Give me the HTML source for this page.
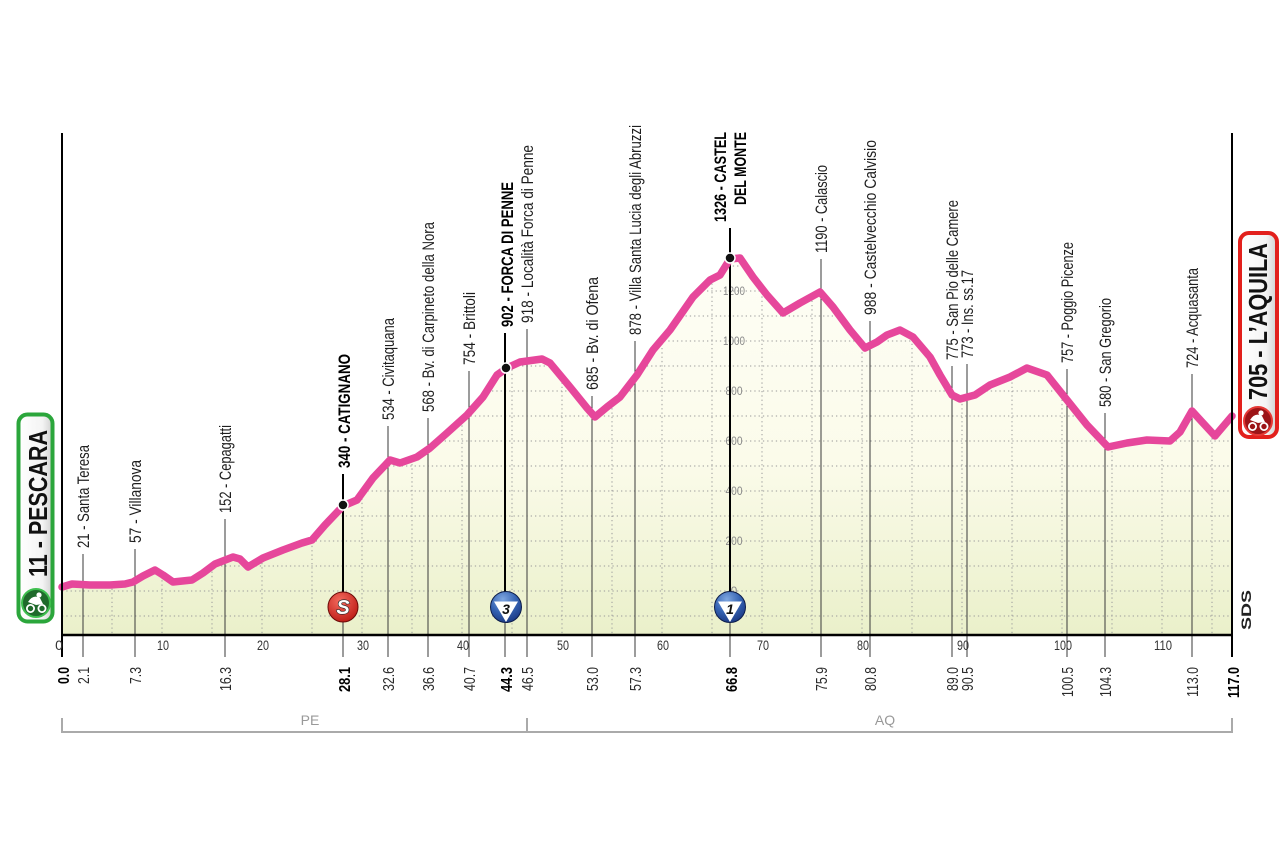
<!DOCTYPE html>
<html><head><meta charset="utf-8"><style>
html,body{margin:0;padding:0;background:#fff;}
svg{display:block;}
text{font-family:"Liberation Sans",sans-serif;}
</style></head><body>
<svg width="1280" height="852" viewBox="0 0 1280 852" xmlns="http://www.w3.org/2000/svg">
<defs>
<linearGradient id="fillg" gradientUnits="userSpaceOnUse" x1="0" y1="250" x2="0" y2="635">
<stop offset="0" stop-color="#fefef6"/><stop offset="0.55" stop-color="#fbfbea"/><stop offset="1" stop-color="#eaf0ca"/>
</linearGradient>
<linearGradient id="boxg" x1="0" y1="0" x2="1" y2="0">
<stop offset="0" stop-color="#ffffff"/><stop offset="0.7" stop-color="#f4f4f4"/><stop offset="1" stop-color="#d0d0d0"/>
</linearGradient>
<radialGradient id="redg" cx="0.4" cy="0.3" r="0.8"><stop offset="0" stop-color="#f46a5e"/><stop offset="1" stop-color="#b8150f"/></radialGradient>
<radialGradient id="blueg" cx="0.4" cy="0.25" r="0.85"><stop offset="0" stop-color="#7ea6e0"/><stop offset="0.5" stop-color="#3563b3"/><stop offset="1" stop-color="#16307a"/></radialGradient>
<clipPath id="areaclip"><path d="M62,635 L62,587 L72,584 L90,585 L110,585 L125,584 L133,582 L143,576 L155,570 L163,575 L173,582 L192,580 L203,573 L215,564 L233,557 L240,559 L248,567 L263,558 L283,550 L302,543 L312,540 L325,525 L343,506 L357,500 L373,478 L390,460 L400,463 L417,457 L430,448 L447,433 L467,415 L483,397 L497,375 L507,368 L520,362 L542,359 L550,363 L570,387 L587,408 L595,417 L607,407 L620,397 L637,375 L653,350 L670,330 L693,297 L710,280 L720,275 L730,259 L740,258 L753,277 L767,295 L783,313 L800,303 L820,292 L833,307 L850,330 L865,348 L877,342 L887,335 L900,330 L913,337 L930,357 L940,375 L952,395 L960,399 L975,395 L990,385 L1010,377 L1027,368 L1047,375 L1067,400 L1087,425 L1108,447 L1127,443 L1147,440 L1170,441 L1180,432 L1192,411 L1203,423 L1215,436 L1232,416 L1232,635 Z"/></clipPath>
</defs>

<path d="M62,635 L62,587 L72,584 L90,585 L110,585 L125,584 L133,582 L143,576 L155,570 L163,575 L173,582 L192,580 L203,573 L215,564 L233,557 L240,559 L248,567 L263,558 L283,550 L302,543 L312,540 L325,525 L343,506 L357,500 L373,478 L390,460 L400,463 L417,457 L430,448 L447,433 L467,415 L483,397 L497,375 L507,368 L520,362 L542,359 L550,363 L570,387 L587,408 L595,417 L607,407 L620,397 L637,375 L653,350 L670,330 L693,297 L710,280 L720,275 L730,259 L740,258 L753,277 L767,295 L783,313 L800,303 L820,292 L833,307 L850,330 L865,348 L877,342 L887,335 L900,330 L913,337 L930,357 L940,375 L952,395 L960,399 L975,395 L990,385 L1010,377 L1027,368 L1047,375 L1067,400 L1087,425 L1108,447 L1127,443 L1147,440 L1170,441 L1180,432 L1192,411 L1203,423 L1215,436 L1232,416 L1232,635 Z" fill="url(#fillg)"/>

<g clip-path="url(#areaclip)" stroke="#9a9a9a" stroke-width="1" stroke-dasharray="1.3 3" fill="none">
<path d="M62,616H1232M62,591H1232M62,566H1232M62,541H1232M62,516H1232M62,491H1232M62,466H1232M62,441H1232M62,416H1232M62,391H1232M62,366H1232M62,341H1232M62,316H1232M62,291H1232M62,266H1232"/>
<path d="M112,133V635M162,133V635M212,133V635M262,133V635M312,133V635M362,133V635M412,133V635M462,133V635M512,133V635M562,133V635M612,133V635M662,133V635M712,133V635M762,133V635M812,133V635M862,133V635M912,133V635M962,133V635M1012,133V635M1062,133V635M1112,133V635M1162,133V635M1212,133V635"/>
</g>

<g fill="#8a8a8a" font-size="12" text-anchor="middle">
<text x="734" y="295" textLength="22" lengthAdjust="spacingAndGlyphs">1200</text>
<text x="734" y="345" textLength="22" lengthAdjust="spacingAndGlyphs">1000</text>
<text x="734" y="395" textLength="17" lengthAdjust="spacingAndGlyphs">800</text>
<text x="734" y="445" textLength="17" lengthAdjust="spacingAndGlyphs">600</text>
<text x="734" y="495" textLength="17" lengthAdjust="spacingAndGlyphs">400</text>
<text x="734" y="545" textLength="17" lengthAdjust="spacingAndGlyphs">200</text>
<text x="734" y="595">0</text>
</g>

<g stroke="#3a3a3a" stroke-width="1" fill="none">
<path d="M83,554V657M135,549V657M225,519V657M388,426V657M428,418V657M469,371V657M527,329V657M592,396V657M635,341V657M821,259V657M870,321V657M952,366V657M967,364V657M1067,369V657M1105,413V657M1192,374V657"/>
<path d="M343,600V657M505,600V657M730,600V657"/>
</g>
<g stroke="#000" stroke-width="2" fill="none">
<path d="M343,474V600M505,333V600M730,228V600"/>
</g>

<polyline fill="none" stroke="#e6479b" stroke-width="7.5" stroke-linejoin="round" stroke-linecap="round" points="62,587 72,584 90,585 110,585 125,584 133,582 143,576 155,570 163,575 173,582 192,580 203,573 215,564 233,557 240,559 248,567 263,558 283,550 302,543 312,540 325,525 343,506 357,500 373,478 390,460 400,463 417,457 430,448 447,433 467,415 483,397 497,375 507,368 520,362 542,359 550,363 570,387 587,408 595,417 607,407 620,397 637,375 653,350 670,330 693,297 710,280 720,275 730,259 740,258 753,277 767,295 783,313 800,303 820,292 833,307 850,330 865,348 877,342 887,335 900,330 913,337 930,357 940,375 952,395 960,399 975,395 990,385 1010,377 1027,368 1047,375 1067,400 1087,425 1108,447 1127,443 1147,440 1170,441 1180,432 1192,411 1203,423 1215,436 1232,416"/>

<g fill="#111" stroke="#fff" stroke-width="1.5">
<circle cx="343" cy="505" r="5"/>
<circle cx="506" cy="368" r="5"/>
<circle cx="730" cy="258" r="5"/>
</g>

<g stroke="#000" fill="none">
<path d="M62,133V657" stroke-width="2"/>
<path d="M1232,133V657" stroke-width="2"/>
<path d="M61,635H1233" stroke-width="2.5"/>
</g>

<g fill="#333" font-size="14" text-anchor="middle">
<text x="59" y="650">0</text>
<text x="163" y="650" textLength="12" lengthAdjust="spacingAndGlyphs">10</text>
<text x="263" y="650" textLength="12" lengthAdjust="spacingAndGlyphs">20</text>
<text x="363" y="650" textLength="12" lengthAdjust="spacingAndGlyphs">30</text>
<text x="463" y="650" textLength="12" lengthAdjust="spacingAndGlyphs">40</text>
<text x="563" y="650" textLength="12" lengthAdjust="spacingAndGlyphs">50</text>
<text x="663" y="650" textLength="12" lengthAdjust="spacingAndGlyphs">60</text>
<text x="763" y="650" textLength="12" lengthAdjust="spacingAndGlyphs">70</text>
<text x="863" y="650" textLength="12" lengthAdjust="spacingAndGlyphs">80</text>
<text x="963" y="650" textLength="12" lengthAdjust="spacingAndGlyphs">90</text>
<text x="1063" y="650" textLength="18" lengthAdjust="spacingAndGlyphs">100</text>
<text x="1163" y="650" textLength="18" lengthAdjust="spacingAndGlyphs">110</text>
</g>

<g fill="#1e1e1e" font-size="17">
<text transform="translate(89,548) rotate(-90)" textLength="103" lengthAdjust="spacingAndGlyphs">21 - Santa Teresa</text>
<text transform="translate(141,543) rotate(-90)" textLength="83" lengthAdjust="spacingAndGlyphs">57 - Villanova</text>
<text transform="translate(231,513) rotate(-90)" textLength="88" lengthAdjust="spacingAndGlyphs">152 - Cepagatti</text>
<text transform="translate(394,420) rotate(-90)" textLength="102" lengthAdjust="spacingAndGlyphs">534 - Civitaquana</text>
<text transform="translate(434,412) rotate(-90)" textLength="190" lengthAdjust="spacingAndGlyphs">568 - Bv. di Carpineto della Nora</text>
<text transform="translate(475,365) rotate(-90)" textLength="73" lengthAdjust="spacingAndGlyphs">754 - Brittoli</text>
<text transform="translate(533,323) rotate(-90)" textLength="178" lengthAdjust="spacingAndGlyphs">918 - Località   Forca di Penne</text>
<text transform="translate(598,390) rotate(-90)" textLength="113" lengthAdjust="spacingAndGlyphs">685 - Bv. di Ofena</text>
<text transform="translate(641,335) rotate(-90)" textLength="210" lengthAdjust="spacingAndGlyphs">878 - Villa Santa Lucia degli Abruzzi</text>
<text transform="translate(827,253) rotate(-90)" textLength="88" lengthAdjust="spacingAndGlyphs">1190 - Calascio</text>
<text transform="translate(876,315) rotate(-90)" textLength="175" lengthAdjust="spacingAndGlyphs">988 - Castelvecchio Calvisio</text>
<text transform="translate(958,360) rotate(-90)" textLength="160" lengthAdjust="spacingAndGlyphs">775 - San Pio delle Camere</text>
<text transform="translate(973,358) rotate(-90)" textLength="88" lengthAdjust="spacingAndGlyphs">773 - Ins. ss.17</text>
<text transform="translate(1073,363) rotate(-90)" textLength="121" lengthAdjust="spacingAndGlyphs">757 - Poggio Picenze</text>
<text transform="translate(1111,407) rotate(-90)" textLength="109" lengthAdjust="spacingAndGlyphs">580 - San Gregorio</text>
<text transform="translate(1198,368) rotate(-90)" textLength="100" lengthAdjust="spacingAndGlyphs">724 - Acquasanta</text>
</g>
<g fill="#000" font-size="17" font-weight="bold">
<text transform="translate(350,468) rotate(-90)" textLength="114" lengthAdjust="spacingAndGlyphs">340 - CATIGNANO</text>
<text transform="translate(513,327) rotate(-90)" textLength="145" lengthAdjust="spacingAndGlyphs">902 - FORCA DI PENNE</text>
<text transform="translate(726,222) rotate(-90)" textLength="90" lengthAdjust="spacingAndGlyphs">1326 - CASTEL</text>
<text transform="translate(746,205) rotate(-90)" textLength="73" lengthAdjust="spacingAndGlyphs">DEL MONTE</text>
</g>

<g fill="#2a2a2a" font-size="16">
<text transform="translate(89,684) rotate(-90)" textLength="17" lengthAdjust="spacingAndGlyphs">2.1</text>
<text transform="translate(141,684) rotate(-90)" textLength="17" lengthAdjust="spacingAndGlyphs">7.3</text>
<text transform="translate(231,691) rotate(-90)" textLength="24" lengthAdjust="spacingAndGlyphs">16.3</text>
<text transform="translate(394,691) rotate(-90)" textLength="24" lengthAdjust="spacingAndGlyphs">32.6</text>
<text transform="translate(434,691) rotate(-90)" textLength="24" lengthAdjust="spacingAndGlyphs">36.6</text>
<text transform="translate(475,691) rotate(-90)" textLength="24" lengthAdjust="spacingAndGlyphs">40.7</text>
<text transform="translate(533,691) rotate(-90)" textLength="24" lengthAdjust="spacingAndGlyphs">46.5</text>
<text transform="translate(598,691) rotate(-90)" textLength="24" lengthAdjust="spacingAndGlyphs">53.0</text>
<text transform="translate(641,691) rotate(-90)" textLength="24" lengthAdjust="spacingAndGlyphs">57.3</text>
<text transform="translate(827,691) rotate(-90)" textLength="24" lengthAdjust="spacingAndGlyphs">75.9</text>
<text transform="translate(876,691) rotate(-90)" textLength="24" lengthAdjust="spacingAndGlyphs">80.8</text>
<text transform="translate(958,691) rotate(-90)" textLength="24" lengthAdjust="spacingAndGlyphs">89.0</text>
<text transform="translate(973,691) rotate(-90)" textLength="24" lengthAdjust="spacingAndGlyphs">90.5</text>
<text transform="translate(1073,697) rotate(-90)" textLength="30" lengthAdjust="spacingAndGlyphs">100.5</text>
<text transform="translate(1111,697) rotate(-90)" textLength="30" lengthAdjust="spacingAndGlyphs">104.3</text>
<text transform="translate(1198,697) rotate(-90)" textLength="30" lengthAdjust="spacingAndGlyphs">113.0</text>
</g>
<g fill="#000" font-size="16" font-weight="bold">
<text transform="translate(69,684) rotate(-90)" textLength="17" lengthAdjust="spacingAndGlyphs">0.0</text>
<text transform="translate(350,692) rotate(-90)" textLength="25" lengthAdjust="spacingAndGlyphs">28.1</text>
<text transform="translate(512,692) rotate(-90)" textLength="25" lengthAdjust="spacingAndGlyphs">44.3</text>
<text transform="translate(737,692) rotate(-90)" textLength="25" lengthAdjust="spacingAndGlyphs">66.8</text>
<text transform="translate(1239,698) rotate(-90)" textLength="31" lengthAdjust="spacingAndGlyphs">117.0</text>
</g>

<g>
<circle cx="343" cy="607" r="15" fill="url(#redg)" stroke="#6a0a08" stroke-width="1"/>
<text x="343" y="614" font-size="20" font-weight="bold" font-style="italic" text-anchor="middle" fill="#fff" stroke="#222" stroke-width="1.2" paint-order="stroke">S</text>

<circle cx="506" cy="607" r="15.5" fill="url(#blueg)" stroke="#0d1d4a" stroke-width="1"/>
<path d="M494,601.5 L518,601.5 L506,622 Z" fill="#fff"/>
<text x="506" y="614" font-size="14" font-weight="bold" font-style="italic" text-anchor="middle" fill="#111">3</text>

<circle cx="730" cy="607" r="15.5" fill="url(#blueg)" stroke="#0d1d4a" stroke-width="1"/>
<path d="M718,601.5 L742,601.5 L730,622 Z" fill="#fff"/>
<text x="730" y="614" font-size="14" font-weight="bold" font-style="italic" text-anchor="middle" fill="#111">1</text>
</g>

<rect x="18.5" y="414.5" width="34" height="207" rx="9" fill="url(#boxg)" stroke="#2ba63b" stroke-width="4"/>
<text transform="translate(47,577) rotate(-90)" font-size="26" font-weight="bold" fill="#111" textLength="147" lengthAdjust="spacingAndGlyphs">11 - PESCARA</text>
<circle cx="36" cy="603" r="14" fill="#1f6a2b" stroke="#3fbf4f" stroke-width="2"/>
<g fill="#fff" stroke="none">
<circle cx="39" cy="595" r="2.6"/>
<path d="M28,602 Q33,594 40,598 L43,604 L36,605 Z"/>
</g>
<g fill="none" stroke="#fff" stroke-width="1.8">
<circle cx="30.5" cy="608.5" r="3.6"/><circle cx="42" cy="608.5" r="3.6"/>
</g>

<rect x="1240" y="233" width="37" height="204" rx="9" fill="url(#boxg)" stroke="#e2201c" stroke-width="4"/>
<text transform="translate(1267,400) rotate(-90)" font-size="26" font-weight="bold" fill="#111" textLength="157" lengthAdjust="spacingAndGlyphs">705 - L’AQUILA</text>
<circle cx="1258" cy="421" r="14" fill="#9c1417" stroke="#e53935" stroke-width="2"/>
<g fill="#fff" stroke="none">
<circle cx="1261" cy="413" r="2.6"/>
<path d="M1250,420 Q1255,412 1262,416 L1265,422 L1258,423 Z"/>
</g>
<g fill="none" stroke="#fff" stroke-width="1.8">
<circle cx="1252.5" cy="426.5" r="3.6"/><circle cx="1264" cy="426.5" r="3.6"/>
</g>

<text transform="translate(1251,630) rotate(-90)" font-size="14" font-weight="bold" fill="#222" textLength="40" lengthAdjust="spacingAndGlyphs">SDS</text>

<path d="M62,718V732H1232V718M527,718V732" fill="none" stroke="#aaaaaa" stroke-width="2"/>
<g fill="#999" font-size="14" text-anchor="middle">
<text x="310" y="725">PE</text>
<text x="885" y="725">AQ</text>
</g>
</svg>
</body></html>
